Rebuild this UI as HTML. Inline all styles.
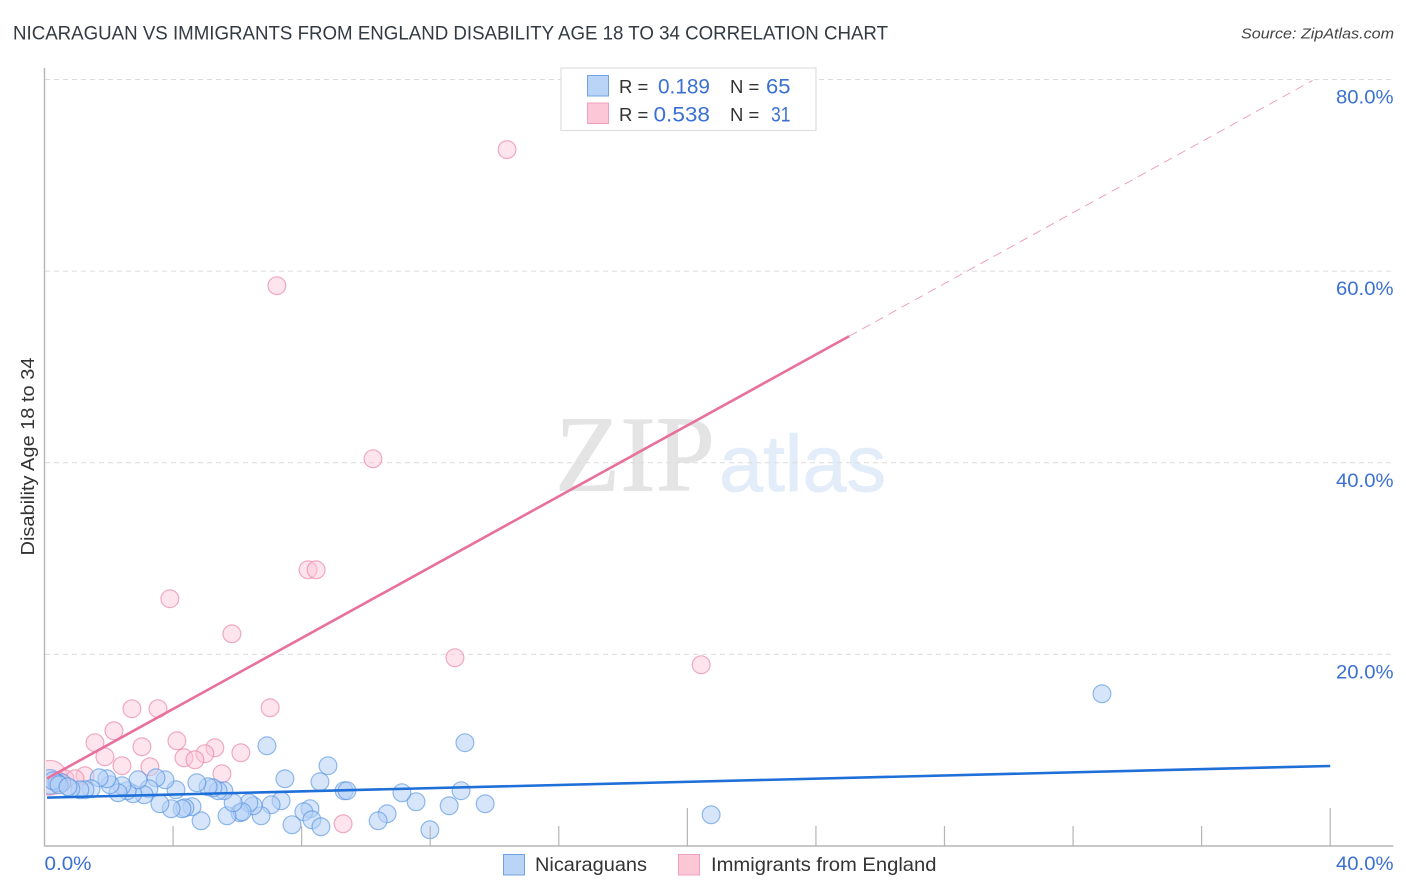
<!DOCTYPE html>
<html lang="en">
<head>
<meta charset="utf-8">
<title>Nicaraguan vs Immigrants from England Disability Age 18 to 34 Correlation Chart</title>
<style>
html,body{margin:0;padding:0;background:#fff;width:1406px;height:892px;overflow:hidden}
svg{display:block;font-family:"Liberation Sans",sans-serif}
</style>
</head>
<body>
<svg id="chart" xmlns="http://www.w3.org/2000/svg" width="1406" height="892" viewBox="0 0 1406 892">
  <defs>
    <clipPath id="plot-clip"><rect x="46" y="60" width="1348" height="785"/></clipPath>
  </defs>
  <rect x="0" y="0" width="1406" height="892" fill="#ffffff"/>
  <text x="13" y="39.5" font-size="19" fill="#333a42" textLength="875" lengthAdjust="spacingAndGlyphs">NICARAGUAN VS IMMIGRANTS FROM ENGLAND DISABILITY AGE 18 TO 34 CORRELATION CHART</text>
  <text x="1241" y="38.5" font-size="15" font-style="italic" fill="#444" textLength="153" lengthAdjust="spacingAndGlyphs">Source: ZipAtlas.com</text>
  <text x="555" y="490.5" font-family="'Liberation Serif',serif" font-size="108" fill="#e4e4e4" stroke="#e4e4e4" stroke-width="0.8" textLength="160" lengthAdjust="spacingAndGlyphs">ZIP</text>
  <text x="719" y="491" font-size="80" fill="#e3edf9" stroke="#e3edf9" stroke-width="0.8" textLength="167" lengthAdjust="spacingAndGlyphs">atlas</text>
  <g id="grid"></g>
  <g id="pink-points" clip-path="url(#plot-clip)"></g>
  <g id="blue-points" clip-path="url(#plot-clip)"></g>
  <g id="lines"></g>
  <g id="axes"></g>
  <text transform="translate(34 555.5) rotate(-90)" x="0" y="0" font-size="18" fill="#333" textLength="198" lengthAdjust="spacingAndGlyphs">Disability Age 18 to 34</text>

  <g>
    <rect x="561" y="68" width="255" height="62.5" fill="#fff" stroke="#dedede" stroke-width="1.2"/>
    <rect x="587.5" y="75.5" width="21" height="20.5" fill="#b9d4f7" stroke="#6fa3e3" stroke-width="1"/>
    <rect x="587.5" y="103" width="21" height="20.5" fill="#fcc8d8" stroke="#f0a0bc" stroke-width="1"/>
    <text x="619" y="93" font-size="18.5" fill="#333">R =</text>
    <text x="658" y="93.5" font-size="21" fill="#3b70d3" textLength="52" lengthAdjust="spacingAndGlyphs">0.189</text>
    <text x="730" y="93" font-size="18.5" fill="#333">N =</text>
    <text x="766" y="93.5" font-size="21" fill="#3b70d3" textLength="24.5" lengthAdjust="spacingAndGlyphs">65</text>
    <text x="619" y="121" font-size="18.5" fill="#333">R =</text>
    <text x="653.5" y="121.5" font-size="21" fill="#3b70d3" textLength="56.5" lengthAdjust="spacingAndGlyphs">0.538</text>
    <text x="730" y="121" font-size="18.5" fill="#333">N =</text>
    <text x="771" y="121.5" font-size="21" fill="#3b70d3" textLength="19.5" lengthAdjust="spacingAndGlyphs">31</text>
  </g>

  <g>
    <rect x="503.5" y="854.5" width="21" height="20.5" fill="#b9d4f7" stroke="#6fa3e3" stroke-width="1"/>
    <text x="535" y="871" font-size="19.5" fill="#333" textLength="112" lengthAdjust="spacingAndGlyphs">Nicaraguans</text>
    <rect x="678.5" y="854.5" width="21" height="20.5" fill="#fcc8d8" stroke="#f0a0bc" stroke-width="1"/>
    <text x="711" y="871" font-size="19.5" fill="#333" textLength="225.5" lengthAdjust="spacingAndGlyphs">Immigrants from England</text>
  </g>
</svg>
<script>
// Chart data (percent units)
const yTickValues = [20, 40, 60, 80];
const yTickLabels = ["20.0%", "40.0%", "60.0%", "80.0%"];
const xTickValues = [4, 8, 12, 16, 20, 24, 28, 32, 36, 40];
const xMajorTicks = [20, 40];
const xEndLabels = ["0.0%", "40.0%"];
const xEndValues = [0, 40];

const blueX = [0.17,32.9,13.08,6.92,8.82,7.48,8.57,20.74,11.99,13.71,12.96,12.59,11.56,11.12,10.66,10.38,9.32,9.41,8.26,8.07,8.32,8.60,7.70,7.36,7.05,6.74,6.49,6.36,6.08,6.15,5.68,5.87,5.58,5.40,5.24,5.09,4.74,4.87,4.59,4.37,4.28,3.94,3.59,4.09,3.75,3.47,3.25,3.10,2.75,2.57,2.91,2.41,2.29,2.04,1.94,1.70,1.45,1.26,1.10,0.82,0.54,0.39,0.26,0.45,0.73];
const blueY = [6.70,15.89,10.78,10.46,8.38,7.02,6.70,3.26,1.69,4.41,5.77,4.20,4.62,5.56,3.36,2.63,5.77,5.77,3.89,3.57,2.74,2.01,2.22,4.72,4.30,3.16,4.20,4.51,3.47,3.57,3.16,4.51,5.77,5.77,6.08,6.18,6.60,2.63,4.10,3.99,3.89,3.89,4.41,5.87,6.91,7.12,5.97,5.35,5.45,5.77,6.91,6.29,5.56,6.39,7.02,7.12,5.97,5.87,5.87,5.97,6.60,6.60,6.81,6.39,6.18];
const blueWeights = [1.9];

const pinkX = [0.17,14.39,7.23,10.22,8.20,8.45,3.90,5.83,12.77,20.43,7.02,2.72,3.53,2.16,1.57,4.12,3.03,5.30,4.99,4.34,4.68,6.11,1.88,2.41,3.28,5.52,9.29,1.26,0.64,0.95,0.42];
const pinkY = [7.12,72.68,58.48,40.42,28.83,28.83,25.81,22.15,19.65,18.92,14.43,14.33,14.33,12.03,10.78,10.98,10.36,10.25,9.63,9.21,9.00,9.73,9.31,8.38,8.27,7.54,2.32,7.33,7.02,7.02,6.81];
const pinkWeights = [3.8];

const blueTrendX = [0.08, 40];
const blueTrendY = [5.05, 8.35];
const pinkTrendX = [0.08, 25.03];
const pinkTrendY = [7.05, 53.2];
const pinkDashX = [25.03, 39.45];
const pinkDashY = [53.2, 79.9];

// Axis functions
const xScale = function (v) { return 44.5 + v * (1330.2 - 44.5) / 40; };
const yScale = function (v) { return 846 - v * (846 - 79.5) / 80; };

const SVG_NS = "http://www.w3.org/2000/svg";
function make(tag, attrs, parent) {
  const el = document.createElementNS(SVG_NS, tag);
  Object.keys(attrs).forEach(function (k) { el.setAttribute(k, attrs[k]); });
  parent.appendChild(el);
  return el;
}

const grid = document.getElementById("grid");
const axes = document.getElementById("axes");
const lines = document.getElementById("lines");
const bluePoints = document.getElementById("blue-points");
const pinkPoints = document.getElementById("pink-points");

yTickValues.forEach(function (v, i) {
  const gridLine = make("line", {x1: 45, x2: 1393, y1: yScale(v), y2: yScale(v), stroke: "#dcdcdc", "stroke-width": 1, "stroke-dasharray": "5 4"}, grid);
  
  
  const label = make("text", {x: 1393.5, y: yScale(v) + 24, "font-size": 19.5, fill: "#3b70d3", "text-anchor": "end", textLength: 57.5, lengthAdjust: "spacingAndGlyphs"}, axes);
  label.textContent = yTickLabels[i];
  
  
});

const leftAxis = make("line", {x1: 44.5, x2: 44.5, y1: 68, y2: 846.5, stroke: "#b5b5b5", "stroke-width": 1.4}, axes);


const bottomAxis = make("line", {x1: 44, x2: 1393.5, y1: 846, y2: 846, stroke: "#b5b5b5", "stroke-width": 1.4}, axes);



xTickValues.forEach(function (v) {
  const top = xMajorTicks.indexOf(v) >= 0 ? 808 : 826;
  const tick = make("line", {x1: xScale(v), x2: xScale(v), y1: top, y2: 846, stroke: "#b5b5b5", "stroke-width": 1.2}, axes);
  
  
});

xEndValues.forEach(function (v, i) {
  const label = make("text", {x: i === 0 ? xScale(v) : 1393.5, y: 870, "font-size": 19.5, fill: "#3b70d3", "text-anchor": i === 0 ? "start" : "end", textLength: i === 0 ? 47 : 57.5, lengthAdjust: "spacingAndGlyphs"}, axes);
  label.textContent = xEndLabels[i];
  
  
});

pinkX.forEach(function (x, i) {
  const r = 8.9 * Math.sqrt(pinkWeights[i] || 1);
  const c = make("circle", {cx: xScale(x), cy: yScale(pinkY[i]), r: r, fill: "#fcc4d6", "fill-opacity": 0.45, stroke: "#e88aa8", "stroke-opacity": 0.7, "stroke-width": 1.2}, pinkPoints);
  
  
});

blueX.forEach(function (x, i) {
  const r = 8.9 * Math.sqrt(blueWeights[i] || 1);
  const c = make("circle", {cx: xScale(x), cy: yScale(blueY[i]), r: r, fill: "#b4d0f5", "fill-opacity": 0.55, stroke: "#4f8fdf", "stroke-opacity": 0.6, "stroke-width": 1.2}, bluePoints);
  
  
});

const pinkDash = make("line", {x1: xScale(pinkDashX[0]), y1: yScale(pinkDashY[0]), x2: xScale(pinkDashX[1]), y2: yScale(pinkDashY[1]), stroke: "#e8709c", "stroke-width": 0.9, "stroke-opacity": 0.7, "stroke-dasharray": "9 6"}, lines);


const pinkTrend = make("line", {x1: xScale(pinkTrendX[0]), y1: yScale(pinkTrendY[0]), x2: xScale(pinkTrendX[1]), y2: yScale(pinkTrendY[1]), stroke: "#e8709c", "stroke-width": 2.6}, lines);


const blueTrend = make("line", {x1: xScale(blueTrendX[0]), y1: yScale(blueTrendY[0]), x2: xScale(blueTrendX[1]), y2: yScale(blueTrendY[1]), stroke: "#1f6fd8", "stroke-width": 2.6}, lines);


</script>
</body>
</html>
